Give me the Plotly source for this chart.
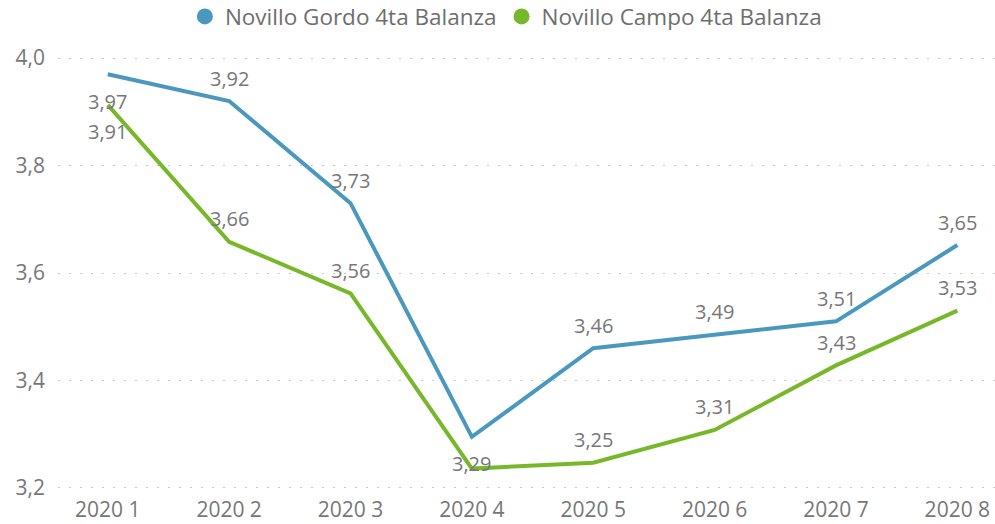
import plotly.graph_objects as go

categories = ["2020 1", "2020 2", "2020 3", "2020 4", "2020 5", "2020 6", "2020 7", "2020 8"]
gordo_name = "Novillo Gordo 4ta Balanza"
campo_name = "Novillo Campo 4ta Balanza"
gordo = [3.97, 3.92, 3.73, 3.295, 3.46, 3.485, 3.51, 3.652]
campo = [3.913, 3.658, 3.562, 3.236, 3.247, 3.308, 3.428, 3.53]
gordo_labels = ["3,97", "3,92", "3,73", "3,29", "3,46", "3,49", "3,51", "3,65"]
campo_labels = ["3,91", "3,66", "3,56", "", "3,25", "3,31", "3,43", "3,53"]
gordo_below = [True, False, False, True, False, False, False, False]
campo_below = [True, False, False, False, False, False, False, False]
y_ticks = [3.2, 3.4, 3.6, 3.8, 4.0]
y_tick_text = ["3,2", "3,4", "3,6", "3,8", "4,0"]

BLUE = "#4A98BE"
GREEN = "#77B82B"
TXT = "#777777"
FONT = "Segoe UI, Open Sans, sans-serif"

xs = list(range(len(categories)))
fig = go.Figure()
fig.add_trace(go.Scatter(x=xs, y=gordo, mode="lines", line=dict(color=BLUE, width=4),
                         showlegend=False, hoverinfo="skip"))
fig.add_trace(go.Scatter(x=xs, y=campo, mode="lines", line=dict(color=GREEN, width=4),
                         showlegend=False, hoverinfo="skip"))
# legend entries
fig.add_trace(go.Scatter(x=[None], y=[None], mode="markers", name=gordo_name,
                         marker=dict(color=BLUE, size=17, symbol="circle")))
fig.add_trace(go.Scatter(x=[None], y=[None], mode="markers", name=campo_name,
                         marker=dict(color=GREEN, size=17, symbol="circle")))

annotations = []
for vals, labs, below in [(gordo, gordo_labels, gordo_below), (campo, campo_labels, campo_below)]:
    for i, (v, t, b) in enumerate(zip(vals, labs, below)):
        if not t:
            continue
        annotations.append(dict(x=xs[i], y=v, text=t, showarrow=False,
                                yshift=-27 if b else 23,
                                font=dict(family=FONT, size=20, color=TXT)))

fig.update_layout(
    width=995, height=524,
    margin=dict(l=58, r=0, t=57, b=35, autoexpand=False),
    paper_bgcolor="white", plot_bgcolor="white",
    font=dict(family=FONT, size=21, color=TXT),
    legend=dict(orientation="h", x=0.478, xanchor="center", y=1.093, yanchor="middle",
                font=dict(family=FONT, size=22.5, color="#6E6E6E"),
                itemwidth=30, tracegroupgap=0),
    annotations=annotations,
    showlegend=True,
)
fig.update_xaxes(range=[-0.41, 7.31], tickvals=xs, ticktext=categories,
                 showgrid=False, zeroline=False, showline=False, automargin=False,
                 tickfont=dict(family=FONT, size=21, color=TXT), ticklabelstandoff=6)
fig.update_yaxes(range=[3.198, 4.002], tickvals=y_ticks, ticktext=y_tick_text,
                 showgrid=True, gridcolor="#C8C8C8", gridwidth=1, griddash="2px,9px",
                 zeroline=False, showline=False, automargin=False,
                 tickfont=dict(family=FONT, size=21, color=TXT), ticklabelstandoff=12)

fig.write_html("out.html", config={"displayModeBar": False},
               post_script="document.body.style.margin='0px';")
